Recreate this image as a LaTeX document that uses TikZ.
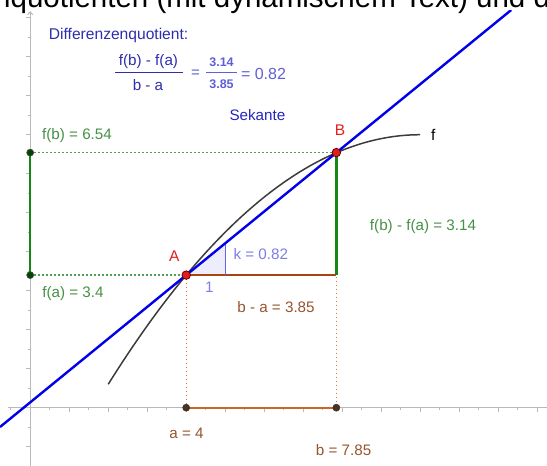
\documentclass[tikz,border=0pt]{standalone}
\usepackage{fontspec}
\setmainfont{Liberation Sans}
\usetikzlibrary{arrows.meta}
\definecolor{secblue}{RGB}{0,0,235}
\definecolor{txtblue}{RGB}{45,45,175}
\definecolor{numblue}{RGB}{95,95,215}
\definecolor{kblue}{RGB}{125,125,230}
\definecolor{grnline}{RGB}{20,135,20}
\definecolor{grndot}{RGB}{80,160,80}
\definecolor{grntxt}{RGB}{70,145,70}
\definecolor{brnline}{RGB}{165,70,20}
\definecolor{orngline}{RGB}{205,100,40}
\definecolor{brndot}{RGB}{215,115,60}
\definecolor{brntxt}{RGB}{150,85,45}
\definecolor{ptred}{RGB}{225,30,30}
\definecolor{axgray}{RGB}{185,185,185}
\definecolor{curvegray}{RGB}{60,60,60}
\begin{document}
\begin{tikzpicture}[x=1pt,y=-1pt,
  lbl/.style={font=\fontsize{15.2}{17}\selectfont, inner sep=0pt},
  axisline/.style={draw=axgray, line width=1pt},
  tickline/.style={draw=axgray, line width=0.8pt},
  redpt/.style={circle, fill=ptred, draw=black!60!red, line width=0.8pt, minimum size=8.5pt, inner sep=0pt},
  grnpt/.style={circle, fill=black!55!green!60!black, draw=black!70, line width=0.6pt, minimum size=7pt, inner sep=0pt},
  brnpt/.style={circle, fill=black!60!brown, draw=black!80, line width=0.6pt, minimum size=7pt, inner sep=0pt},
  dotline/.style={line width=1.3pt, dash pattern=on 1.3pt off 2.7pt}
]
\useasboundingbox (0,0) rectangle (547,466);
% header (cut off)
\node[anchor=base west, inner sep=0pt, font=\fontsize{29.5}{31}\selectfont] (hdr) at (-6,7.5) {nquotienten (mit dynamischem Text) und d};

% coordinates (origin 30.2/407.7, 39 px per unit)
\coordinate (O) at (30.2,407.7);
\coordinate (PA) at (186.2,275.1);
\coordinate (PB) at (336.35,152.6);
\coordinate (Cc) at (336.35,275.1);
\coordinate (FA) at (30.2,275.1);
\coordinate (FB) at (30.2,152.6);
\coordinate (XA) at (186.2,407.7);
\coordinate (XB) at (336.35,407.7);
\coordinate (S1) at (225.2,275.1);
\coordinate (S2) at (225.2,243.3);
\coordinate (L) at (0.0,427.0);
\coordinate (T) at (511.2,10);
\coordinate (Xl) at (8,407.7);
\coordinate (Xr) at (547,407.7);
\coordinate (Yb) at (30.2,466);
\coordinate (Yt) at (30.2,11);

\begin{scope}
\clip (8,10) rectangle (547,466);
% axes
\draw[axisline] (Xl) -- (Xr);
\draw[axisline, -{Straight Barb[length=3pt,width=5pt]}] (Yb) -- (Yt);
\foreach \k in {-0.5,0.5,1.5,...,13.5}{
  \draw[tickline] ({30.2+39*\k},407.7) -- ++(0,2.5);
}
\foreach \k in {1,...,14}{
  \draw[tickline] ({30.2+39*\k},407.7) -- ++(0,4.5);
}
\foreach \k in {-1.5,-0.5,0.5,...,9.5}{
  \draw[tickline] (30.2,{407.7-39*\k}) -- ++(-2.5,0);
}
\foreach \k in {-1,1,2,...,10}{
  \draw[tickline] (30.2,{407.7-39*\k}) -- ++(-4.5,0);
}
% slope triangle
\fill[kblue!14] (PA) -- (S1) -- (S2) -- cycle;
% curve f
\draw[curvegray, line width=1.5pt] plot[domain=2:10, samples=80] ({30.2+39*\x},{407.7-39*(-0.1*\x*\x+2*\x-3)});
\end{scope}

% dotted helper lines
\draw[dotline, grndot] (FA) -- (PA);
\draw[dotline, grndot] (FB) -- (PB);
\draw[dotline, brndot] (PA) -- (XA);
\draw[dotline, brndot] (PB) -- (XB);

% segments
\draw[grnline, line width=1.5pt] (FA) -- (FB);
\draw[orngline, line width=1.8pt] (XA) -- (XB);
\draw[brnline, line width=2.6pt] (PA) -- (Cc);
\draw[grnline, line width=2.6pt] (PB) -- (Cc);
\draw[kblue!80!blue, line width=1pt] (S1) -- (S2);

% secant
\begin{scope}
\clip (0,10) rectangle (547,466);
\draw[secblue, line width=2.4pt] (L) -- (T);
\end{scope}

% points
\node[grnpt] (Fa) at (FA) {};
\node[grnpt] (Fb) at (FB) {};
\node[brnpt] (Pa) at (XA) {};
\node[brnpt] (Pb) at (XB) {};
\node[redpt] (A) at (PA) {};
\node[redpt] (B) at (PB) {};

% labels
\node[lbl, text=txtblue, font=\fontsize{15.6}{17}\selectfont] (dq) at (118.6,35) {Differenzenquotient:};
\node[lbl, text=txtblue] (num1) at (148.5,62) {f(b) - f(a)};
\node[lbl, text=txtblue] (den1) at (148,85.5) {b - a};
\coordinate (r1l) at (115,72.5);
\coordinate (r1r) at (183,72.5);
\draw[txtblue, line width=1.3pt] (r1l) -- (r1r);
\node[lbl, text=numblue] (eq1) at (195.5,73.5) {=};
\node[inner sep=0pt, text=numblue, font=\fontsize{12.5}{14}\bfseries\selectfont] (num2) at (221.5,62.5) {3.14};
\node[inner sep=0pt, text=numblue, font=\fontsize{12.5}{14}\bfseries\selectfont] (den2) at (221.5,84) {3.85};
\coordinate (r2l) at (206,72.5);
\coordinate (r2r) at (237,72.5);
\draw[numblue, line width=1.3pt] (r2l) -- (r2r);
\node[lbl, text=numblue, font=\fontsize{16}{18}\selectfont] (res) at (263.5,73.5) {= 0.82};
\node[lbl, text=txtblue!85!blue] (sek) at (257.4,115) {Sekante};
\node[lbl, text=grntxt] (lfb) at (77,135.5) {f(b) = 6.54};
\node[lbl, text=grntxt] (lfa) at (73,293.3) {f(a) = 3.4};
\node[lbl, text=grntxt] (ldiff) at (423,227) {f(b) - f(a) = 3.14};
\node[lbl, text=ptred, font=\fontsize{15.5}{17}\selectfont] (lA) at (174.4,256.5) {A};
\node[lbl, text=ptred, font=\fontsize{15.5}{17}\selectfont] (lB) at (340,130) {B};
\node[lbl, text=black, font=\fontsize{15.5}{17}\selectfont] (lf) at (433.3,135) {f};
\node[lbl, text=kblue] (lk) at (260.8,254) {k = 0.82};
\node[lbl, text=kblue] (l1) at (209.3,287) {1};
\node[lbl, text=brntxt] (lba) at (276,307) {b - a = 3.85};
\node[lbl, text=brntxt] (la) at (186.6,433.3) {a = 4};
\node[lbl, text=brntxt] (lb) at (343.6,450) {b = 7.85};
\end{tikzpicture}
\end{document}
